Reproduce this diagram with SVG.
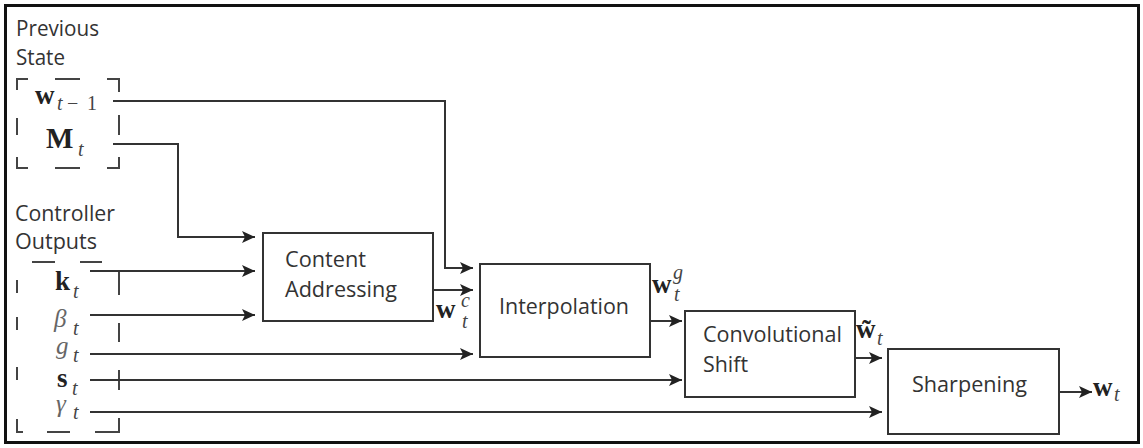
<svg xmlns="http://www.w3.org/2000/svg" width="1143" height="448" viewBox="0 0 1143 448">
  <style>
    .lbl { font-family: "Open Sans", "Liberation Sans", sans-serif; font-size: 21px; fill: #333; }
    .box { fill: #fff; stroke: #333; stroke-width: 2; }
    .arr { fill: none; stroke: #333; stroke-width: 2; marker-end: url(#ah); }
    .dash { fill: none; stroke: #444; stroke-width: 2; }
    .mb { font-family: "Liberation Serif", "DejaVu Serif", serif; font-weight: bold; font-size: 27px; fill: #222; }
    .mi { font-family: "Liberation Serif", "DejaVu Serif", serif; font-style: italic; font-size: 25px; fill: #666; }
    .sub { font-family: "Liberation Serif", "DejaVu Serif", serif; font-style: italic; font-size: 20px; fill: #444; }
    .subn { font-family: "Liberation Serif", "DejaVu Serif", serif; font-style: normal; font-size: 20px; fill: #444; }
  </style>
  <defs>
    <marker id="ah" markerUnits="userSpaceOnUse" markerWidth="14" markerHeight="12" refX="13" refY="6" orient="auto">
      <path d="M0,0 L13,6 L0,12 L3,6 z" fill="#222"/>
    </marker>
  </defs>

  <rect x="5.5" y="5.5" width="1133" height="437" fill="#fff" stroke="#111" stroke-width="3"/>

  <g id="previous-state">
    <text class="lbl" x="16" y="36" textLength="83" lengthAdjust="spacingAndGlyphs">Previous</text>
    <text class="lbl" x="16" y="65" textLength="49" lengthAdjust="spacingAndGlyphs">State</text>
    <path class="dash" d="M17,90 V79 H28 M55,79 H80 M107,79 H119 V92 M17,118 V135 M119,115 V135 M17,157 V168 H28 M55,168 H80 M107,168 H119 V157"/>
    <text class="mb" x="35" y="104">w</text>
    <text class="sub" y="110"><tspan x="57">t</tspan><tspan class="subn" x="67">−</tspan><tspan class="subn" x="87">1</tspan></text>
    <text class="mb" x="46" y="148" style="font-size:29px">M</text>
    <text class="sub" x="78" y="156">t</text>
  </g>

  <g id="controller-outputs">
    <text class="lbl" x="15" y="221" textLength="100" lengthAdjust="spacingAndGlyphs">Controller</text>
    <text class="lbl" x="15" y="249" textLength="82" lengthAdjust="spacingAndGlyphs">Outputs</text>
    <path class="dash" d="M32,262 H55 M80,262 H102 M17,280 V293 M17,317 V330 M17,367 V380 M17,419 V432 H23 M47,432 H70 M95,432 H119 V418 M119,271 V295 M119,323 V342 M119,370 V390"/>
    <text class="mb" x="55" y="290">k</text>
    <text class="sub" x="73" y="298">t</text>
    <text class="mi" x="54" y="327">β</text>
    <text class="sub" x="73" y="335">t</text>
    <text class="mi" x="56" y="354">g</text>
    <text class="sub" x="73" y="362">t</text>
    <text class="mb" x="57" y="387">s</text>
    <text class="sub" x="72" y="395">t</text>
    <text class="mi" x="56" y="412">γ</text>
    <text class="sub" x="73" y="419">t</text>
  </g>

  <g id="connectors">
    <path class="arr" d="M113,101 H445 V268 H473"/>
    <path class="arr" d="M113,144 H178 V237 H255"/>
    <path class="arr" d="M90,271 H255"/>
    <path class="arr" d="M90,315 H255"/>
    <path class="arr" d="M90,354 H473"/>
    <path class="arr" d="M90,380 H682"/>
    <path class="arr" d="M90,412 H882"/>
    <path class="arr" d="M433,290 H473"/>
    <path class="arr" d="M650,321 H682"/>
    <path class="arr" d="M855,358 H882"/>
    <path class="arr" d="M1059,392 H1092"/>
  </g>

  <g id="content-addressing">
    <rect class="box" x="263" y="233" width="170" height="88"/>
    <text class="lbl" x="285" y="267" textLength="81" lengthAdjust="spacingAndGlyphs">Content</text>
    <text class="lbl" x="285" y="297" textLength="112" lengthAdjust="spacingAndGlyphs">Addressing</text>
  </g>

  <g id="interpolation">
    <rect class="box" x="480" y="264" width="170" height="93"/>
    <text class="lbl" x="499" y="314" textLength="130" lengthAdjust="spacingAndGlyphs">Interpolation</text>
  </g>

  <g id="convolutional-shift">
    <rect class="box" x="685" y="311" width="170" height="86"/>
    <text class="lbl" x="703" y="342" textLength="139" lengthAdjust="spacingAndGlyphs">Convolutional</text>
    <text class="lbl" x="703" y="372" textLength="45" lengthAdjust="spacingAndGlyphs">Shift</text>
  </g>

  <g id="sharpening">
    <rect class="box" x="888" y="349" width="171" height="85"/>
    <text class="lbl" x="912" y="392" textLength="115" lengthAdjust="spacingAndGlyphs">Sharpening</text>
  </g>

  <g id="signal-labels">
    <text class="mb" x="436" y="318">w</text>
    <text class="sub" x="461" y="307">c</text>
    <text class="sub" x="462" y="328">t</text>
    <text class="mb" x="652" y="293">w</text>
    <text class="sub" x="673" y="279">g</text>
    <text class="sub" x="674" y="301">t</text>
    <text class="mb" x="856" y="338">w̃</text>
    <text class="sub" x="877" y="345">t</text>
    <text class="mb" x="1093" y="396">w</text>
    <text class="sub" x="1114" y="401">t</text>
  </g>
</svg>
